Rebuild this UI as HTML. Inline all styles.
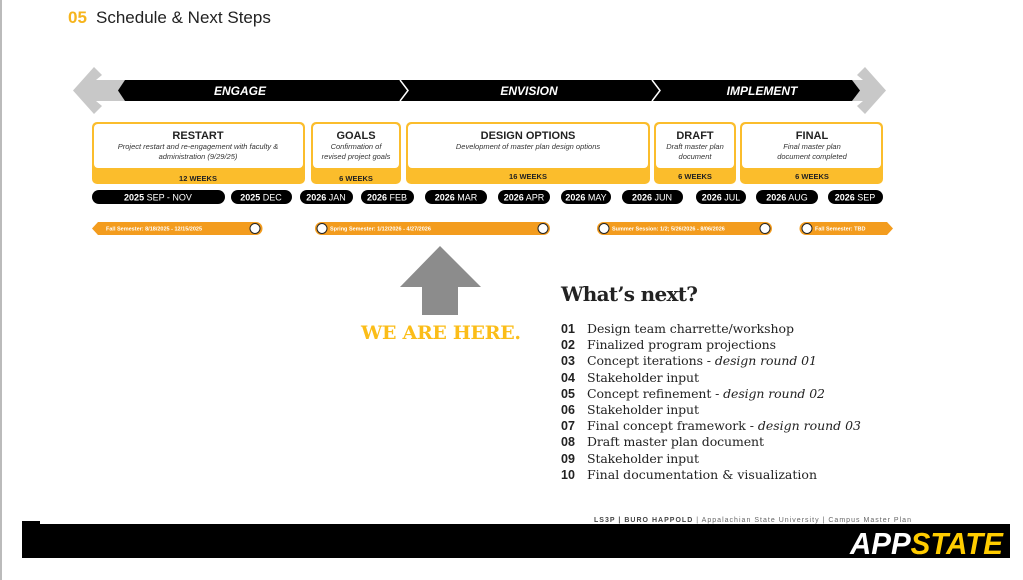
<!DOCTYPE html>
<html><head><meta charset="utf-8"><style>
html,body{margin:0;padding:0;background:#fff;}
svg{display:block;}
.s{font-family:"Liberation Sans",sans-serif;}
.sr{font-family:"DejaVu Serif","Liberation Serif",serif;}
</style></head><body>
<svg width="1023" height="580" viewBox="0 0 1023 580" xmlns="http://www.w3.org/2000/svg">
<rect x="0" y="0" width="2" height="580" fill="#bbb"/>
<text x="68" y="23" class="s" font-size="17" font-weight="bold" fill="#f6b41c">05</text>
<text x="96" y="23" class="s" font-size="17" fill="#222">Schedule &amp; Next Steps</text>

<polygon points="73,90.5 94,67 102,75 96,80 125,80 125,101 96,101 102,106 94,114" fill="#c8c8c8"/>
<polygon points="886,90.5 865,67 857,75 863,80 840,80 840,101 863,101 857,106 865,114" fill="#c8c8c8"/>
<polygon points="125,80 852,80 860,90.5 852,101 125,101 118,90.5" fill="#000"/>
<polyline points="400,80 408,90.5 400,101" fill="none" stroke="#fff" stroke-width="1.5"/>
<polyline points="652,80 660,90.5 652,101" fill="none" stroke="#fff" stroke-width="1.5"/>
<text x="240" y="95" class="s" font-size="12" font-weight="bold" font-style="italic" fill="#fff" text-anchor="middle">ENGAGE</text>
<text x="529" y="95" class="s" font-size="12" font-weight="bold" font-style="italic" fill="#fff" text-anchor="middle">ENVISION</text>
<text x="762" y="95" class="s" font-size="12" font-weight="bold" font-style="italic" fill="#fff" text-anchor="middle">IMPLEMENT</text>

<g class="s">
<rect x="92" y="122" width="213" height="62" rx="5" fill="#fbbd2c"/>
<rect x="94" y="124" width="209" height="44" rx="4" fill="#fff"/>
<text x="198" y="139" font-size="11" font-weight="bold" text-anchor="middle" fill="#222">RESTART</text>
<text x="198" y="149" font-size="7.5" font-style="italic" text-anchor="middle" fill="#333">Project restart and re-engagement with faculty &amp;</text>
<text x="198" y="159" font-size="7.5" font-style="italic" text-anchor="middle" fill="#333">administration (9/29/25)</text>
<text x="198" y="181" font-size="7.5" font-weight="bold" text-anchor="middle" fill="#222">12 WEEKS</text>

<rect x="311" y="122" width="90" height="62" rx="5" fill="#fbbd2c"/>
<rect x="313" y="124" width="86" height="44" rx="4" fill="#fff"/>
<text x="356" y="139" font-size="11" font-weight="bold" text-anchor="middle" fill="#222">GOALS</text>
<text x="356" y="149" font-size="7.5" font-style="italic" text-anchor="middle" fill="#333">Confirmation of</text>
<text x="356" y="159" font-size="7.5" font-style="italic" text-anchor="middle" fill="#333">revised project goals</text>
<text x="356" y="181" font-size="7.5" font-weight="bold" text-anchor="middle" fill="#222">6 WEEKS</text>

<rect x="406" y="122" width="244" height="62" rx="5" fill="#fbbd2c"/>
<rect x="408" y="124" width="240" height="44" rx="4" fill="#fff"/>
<text x="528" y="139" font-size="11" font-weight="bold" text-anchor="middle" fill="#222">DESIGN OPTIONS</text>
<text x="528" y="149" font-size="7.5" font-style="italic" text-anchor="middle" fill="#333">Development of master plan design options</text>
<text x="528" y="179" font-size="7.5" font-weight="bold" text-anchor="middle" fill="#222">16 WEEKS</text>

<rect x="654" y="122" width="82" height="62" rx="5" fill="#fbbd2c"/>
<rect x="656" y="124" width="78" height="44" rx="4" fill="#fff"/>
<text x="695" y="139" font-size="11" font-weight="bold" text-anchor="middle" fill="#222">DRAFT</text>
<text x="695" y="149" font-size="7.5" font-style="italic" text-anchor="middle" fill="#333">Draft master plan</text>
<text x="695" y="159" font-size="7.5" font-style="italic" text-anchor="middle" fill="#333">document</text>
<text x="695" y="179" font-size="7.5" font-weight="bold" text-anchor="middle" fill="#222">6 WEEKS</text>

<rect x="740" y="122" width="143" height="62" rx="5" fill="#fbbd2c"/>
<rect x="742" y="124" width="139" height="44" rx="4" fill="#fff"/>
<text x="812" y="139" font-size="11" font-weight="bold" text-anchor="middle" fill="#222">FINAL</text>
<text x="812" y="149" font-size="7.5" font-style="italic" text-anchor="middle" fill="#333">Final master plan</text>
<text x="812" y="159" font-size="7.5" font-style="italic" text-anchor="middle" fill="#333">document completed</text>
<text x="812" y="179" font-size="7.5" font-weight="bold" text-anchor="middle" fill="#222">6 WEEKS</text>
</g>

<g class="s" font-size="9" fill="#fff" text-anchor="middle">
<rect x="92" y="190" width="133" height="14" rx="7" fill="#000"/><text x="158" y="200.5"><tspan font-weight="bold">2025</tspan> SEP - NOV</text>
<rect x="231" y="190" width="61" height="14" rx="7" fill="#000"/><text x="261" y="200.5"><tspan font-weight="bold">2025</tspan> DEC</text>
<rect x="300" y="190" width="53" height="14" rx="7" fill="#000"/><text x="326" y="200.5"><tspan font-weight="bold">2026</tspan> JAN</text>
<rect x="361" y="190" width="53" height="14" rx="7" fill="#000"/><text x="387" y="200.5"><tspan font-weight="bold">2026</tspan> FEB</text>
<rect x="425" y="190" width="62" height="14" rx="7" fill="#000"/><text x="456" y="200.5"><tspan font-weight="bold">2026</tspan> MAR</text>
<rect x="498" y="190" width="52" height="14" rx="7" fill="#000"/><text x="524" y="200.5"><tspan font-weight="bold">2026</tspan> APR</text>
<rect x="561" y="190" width="50" height="14" rx="7" fill="#000"/><text x="586" y="200.5"><tspan font-weight="bold">2026</tspan> MAY</text>
<rect x="622" y="190" width="61" height="14" rx="7" fill="#000"/><text x="652" y="200.5"><tspan font-weight="bold">2026</tspan> JUN</text>
<rect x="696" y="190" width="50" height="14" rx="7" fill="#000"/><text x="721" y="200.5"><tspan font-weight="bold">2026</tspan> JUL</text>
<rect x="756" y="190" width="62" height="14" rx="7" fill="#000"/><text x="787" y="200.5"><tspan font-weight="bold">2026</tspan> AUG</text>
<rect x="828" y="190" width="55" height="14" rx="7" fill="#000"/><text x="855" y="200.5"><tspan font-weight="bold">2026</tspan> SEP</text>
</g>

<g class="s" font-size="5.5" font-weight="bold" fill="#fff">
<path d="M98,222 H256 A6.5,6.5 0 0 1 256,235 H98 L92,228.5 Z" fill="#f39c1e"/>
<circle cx="255" cy="228.5" r="5" fill="#fff" stroke="#222" stroke-width="1"/>
<text x="106" y="230.5">Fall Semester: 8/18/2025 - 12/15/2025</text>

<rect x="315" y="222" width="235" height="13" rx="6.5" fill="#f39c1e"/>
<circle cx="322" cy="228.5" r="5" fill="#fff" stroke="#222" stroke-width="1"/>
<circle cx="543" cy="228.5" r="5" fill="#fff" stroke="#222" stroke-width="1"/>
<text x="330" y="230.5">Spring Semester: 1/12/2026 - 4/27/2026</text>

<rect x="597" y="222" width="175" height="13" rx="6.5" fill="#f39c1e"/>
<circle cx="604" cy="228.5" r="5" fill="#fff" stroke="#222" stroke-width="1"/>
<circle cx="765" cy="228.5" r="5" fill="#fff" stroke="#222" stroke-width="1"/>
<text x="612" y="230.5">Summer Session: 1/2; 5/26/2026 - 8/06/2026</text>

<path d="M806,222 H887 L893,228.5 L887,235 H806 A6.5,6.5 0 0 1 806,222 Z" fill="#f39c1e"/>
<circle cx="807" cy="228.5" r="5" fill="#fff" stroke="#222" stroke-width="1"/>
<text x="815" y="230.5">Fall Semester: TBD</text>
</g>

<polygon points="440,246 481,287 458,287 458,315 422,315 422,287 400,287" fill="#8c8c8c"/>
<text x="441" y="339" class="sr" font-size="19" font-weight="bold" fill="#fbbd18" text-anchor="middle" textLength="160">WE ARE HERE.</text>

<text x="561" y="301" class="sr" font-size="20" font-weight="bold" fill="#222" textLength="137">What’s next?</text>
<g fill="#222">
<g class="s" font-size="12.5" font-weight="bold">
<text x="561" y="333">01</text><text x="561" y="349">02</text><text x="561" y="365">03</text><text x="561" y="382">04</text><text x="561" y="398">05</text><text x="561" y="414">06</text><text x="561" y="430">07</text><text x="561" y="446">08</text><text x="561" y="463">09</text><text x="561" y="479">10</text>
</g>
<g class="sr" font-size="12.5">
<text x="587" y="333" textLength="207">Design team charrette/workshop</text>
<text x="587" y="349" textLength="189">Finalized program projections</text>
<text x="587" y="365" textLength="230">Concept iterations - <tspan font-style="italic">design round 01</tspan></text>
<text x="587" y="382" textLength="112">Stakeholder input</text>
<text x="587" y="398" textLength="238">Concept refinement - <tspan font-style="italic">design round 02</tspan></text>
<text x="587" y="414" textLength="112">Stakeholder input</text>
<text x="587" y="430" textLength="274">Final concept framework - <tspan font-style="italic">design round 03</tspan></text>
<text x="587" y="446" textLength="177">Draft master plan document</text>
<text x="587" y="463" textLength="112">Stakeholder input</text>
<text x="587" y="479" textLength="230">Final documentation &amp; visualization</text>
</g>
</g>

<text x="594" y="522" class="s" font-size="7" fill="#666" textLength="317"><tspan font-weight="bold" fill="#444">LS3P | BURO HAPPOLD</tspan>  |  Appalachian State University | Campus Master Plan</text>
<rect x="22" y="521" width="18" height="4" fill="#000"/>
<rect x="22" y="524" width="988" height="34" fill="#000"/>
<text x="850" y="554" class="s" font-size="31" font-weight="bold" font-style="italic" fill="#fff" textLength="153" lengthAdjust="spacingAndGlyphs">APP<tspan fill="#ffcc00">STATE</tspan></text>
</svg>
</body></html>
